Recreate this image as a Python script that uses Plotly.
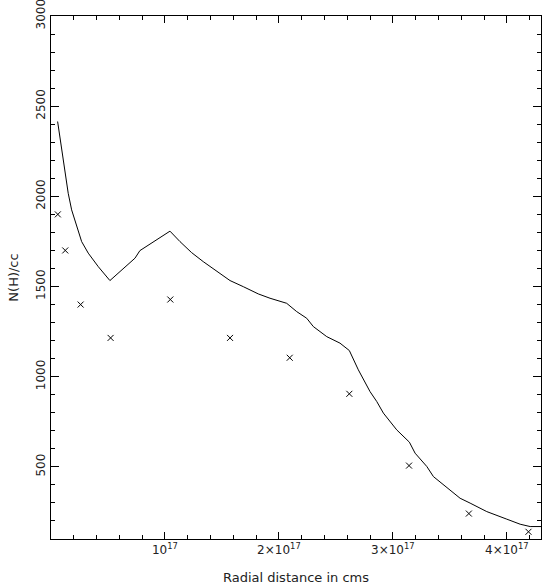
import plotly.graph_objects as go

# model curve (radial distance in 1e17 cm, density)
curve_r = [0.058, 0.093, 0.122, 0.151, 0.181, 0.225, 0.269, 0.327, 0.415, 0.517,
           0.62, 0.737, 0.78, 0.883, 1.044, 1.132, 1.234, 1.336, 1.483, 1.571,
           1.688, 1.819, 1.922, 2.068, 2.156, 2.244, 2.302, 2.42, 2.536, 2.618,
           2.697, 2.8, 2.859, 2.917, 3.034, 3.145, 3.195, 3.298, 3.356, 3.502,
           3.59, 3.678, 3.824, 4.0, 4.117, 4.205, 4.3]
curve_n = [2415, 2257, 2128, 2017, 1925, 1832, 1749, 1685, 1610, 1533,
           1592, 1657, 1699, 1740, 1807, 1749, 1688, 1638, 1574, 1533,
           1499, 1459, 1435, 1407, 1361, 1324, 1278, 1222, 1186, 1145,
           1038, 917, 862, 798, 705, 637, 576, 502, 446, 372,
           326, 299, 252, 210, 182, 169, 169]

# observed points
obs_r = [0.06, 0.125, 0.26, 0.523, 1.047, 1.571, 2.095, 2.618, 3.142, 3.667, 4.19]
obs_n = [1900, 1700, 1400, 1215, 1428, 1215, 1105, 905, 507, 241, 140]

x_tickvals = [1e17, 2e17, 3e17, 4e17]
x_ticktext = ['10<sup>17</sup>', '2×10<sup>17</sup>', '3×10<sup>17</sup>', '4×10<sup>17</sup>']

FONT = dict(family='DejaVu Sans', size=13, color='#222')
TICKFONT = dict(family='DejaVu Sans', size=12, color='#222')

fig = go.Figure()
fig.add_trace(go.Scatter(
    x=[r * 1e17 for r in curve_r], y=curve_n, mode='lines',
    line=dict(color='black', width=1), showlegend=False
))
fig.add_trace(go.Scatter(
    x=[r * 1e17 for r in obs_r], y=obs_n, mode='markers',
    marker=dict(symbol='x-thin', size=6, line=dict(color='black', width=1)),
    showlegend=False
))

axis_common = dict(
    showgrid=False, zeroline=False, showline=True, linecolor='black', linewidth=1,
    mirror='allticks', ticks='inside', tickcolor='black', tickwidth=1,
    tickfont=TICKFONT, automargin=False, ticklabeloverflow='allow',
)

fig.update_layout(
    width=542, height=585,
    paper_bgcolor='white', plot_bgcolor='white',
    margin=dict(l=51, r=1, t=16, b=46),
    font=FONT,
    xaxis=dict(
        range=[0, 4.3e17], tickmode='array', tickvals=x_tickvals, ticktext=x_ticktext,
        ticklen=7,
        minor=dict(tickmode='linear', tick0=0, dtick=2e16, ticklen=4, ticks='inside', tickcolor='black'),
        title=dict(text='Radial distance in cms', font=FONT, standoff=16),
        **axis_common
    ),
    yaxis=dict(
        range=[100, 3000], tickmode='linear', tick0=500, dtick=500, ticklen=8,
        tickangle=-90,
        minor=dict(tickmode='linear', tick0=100, dtick=100, ticklen=4, ticks='inside', tickcolor='black'),
        title=dict(text='N(H)/cc', font=FONT, standoff=12),
        **axis_common
    ),
)

fig.write_html("out.html", config=dict(displayModeBar=False),
               post_script="document.body.style.margin='0';")
